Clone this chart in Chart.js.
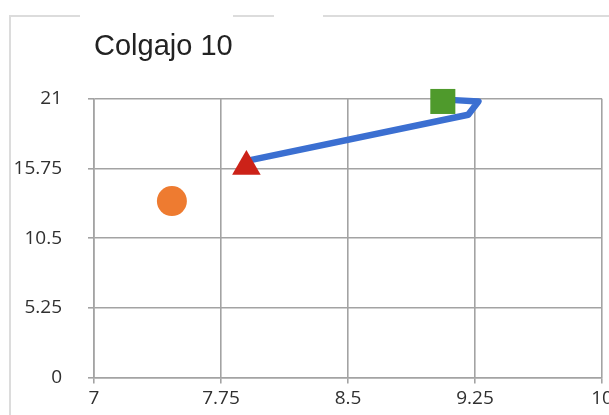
<!DOCTYPE html>
<html>
<head>
<meta charset="utf-8">
<script src="https://cdn.jsdelivr.net/npm/chart.js@4/dist/chart.umd.min.js"></script>
<style>
  html, body { margin: 0; padding: 0; background: #fff; }
  #wrap { position: relative; width: 609px; height: 415px; overflow: hidden; }
  canvas { position: absolute; left: 0; top: 0; }
  .frame { position: absolute; background: #dcdcdc; }
</style>
</head>
<body>
<div id="wrap">
  <div class="frame" style="left:9px; top:15px; width:2px; height:400px;"></div>
  <div class="frame" style="left:9px; top:15px; width:71px; height:2px;"></div>
  <div class="frame" style="left:233px; top:15px; width:41px; height:2px;"></div>
  <div class="frame" style="left:323px; top:15px; width:286px; height:2px;"></div>
  <canvas id="c" width="609" height="415"></canvas>
</div>
<script>
// Axis ticks and their labels
const xTicks = [7, 7.75, 8.5, 9.25, 10];
const xTickLabels = ['7', '7.75', '8.5', '9.25', '10'];
const yTicks = [0, 5.25, 10.5, 15.75, 21];
const yTickLabels = ['0', '5.25', '10.5', '15.75', '21'];

// Measurement points
const circleX = [7.46];
const circleY = [13.3];
const triangleX = [7.9];
const triangleY = [15.9];
const squareX = [9.06];
const squareY = [20.8];

// Arrow: shaft from the triangle, then the head (tip and barb)
const arrowX = [7.93, 9.21, 9.27, 9.13];
const arrowY = [16.4, 19.8, 20.8, 20.9];

const pts = (xs, ys) => xs.map((x, i) => ({ x: x, y: ys[i] }));

const gridColor = '#a3a3a3';
const tickColor = '#303030';
const tickFont = { family: 'Open Sans', size: 19, lineHeight: 1.2 };

new Chart(document.getElementById('c'), {
  type: 'scatter',
  data: {
    datasets: [
      {
        data: pts(arrowX, arrowY),
        showLine: true,
        borderColor: '#3b6fd1',
        borderWidth: 6.5,
        borderCapStyle: 'round',
        borderJoinStyle: 'round',
        pointRadius: 0,
        order: 10,
        clip: false
      },
      {
        data: pts(circleX, circleY),
        pointStyle: 'circle',
        pointRadius: 15,
        backgroundColor: '#ee7b30',
        borderColor: '#ee7b30',
        borderWidth: 0,
        order: 1,
        clip: false
      },
      {
        data: pts(triangleX, triangleY),
        pointStyle: 'triangle',
        pointRadius: 16.5,
        backgroundColor: '#cc2218',
        borderColor: '#cc2218',
        borderWidth: 0,
        order: 1,
        clip: false
      },
      {
        data: pts(squareX, squareY),
        pointStyle: 'rect',
        pointRadius: 17.7,
        backgroundColor: '#4f9a2c',
        borderColor: '#4f9a2c',
        borderWidth: 0,
        order: 1,
        clip: false
      }
    ]
  },
  options: {
    responsive: false,
    animation: false,
    events: [],
    layout: { autoPadding: false, padding: { left: 0, right: 7, top: 0, bottom: 0 } },
    plugins: {
      legend: { display: false },
      tooltip: { enabled: false },
      title: {
        display: true,
        text: 'Colgajo 10',
        align: 'start',
        fullSize: false,
        color: '#222',
        font: { family: 'Liberation Sans', size: 29, weight: 'normal', lineHeight: 1.2 },
        padding: { top: 30, bottom: 34 }
      }
    },
    scales: {
      x: {
        type: 'linear',
        min: 7,
        max: 10,
        afterBuildTicks: (s) => { s.ticks = xTicks.map(v => ({ value: v })); },
        // fixed axis band; the last label is allowed to run off the right edge
        afterFit: (s) => { s.height = 29; s.paddingLeft = 0; s.paddingRight = 0; },
        grid: { color: gridColor, lineWidth: 1.6, tickLength: 6, drawTicks: true },
        border: { color: gridColor, width: 1.6 },
        ticks: {
          color: tickColor, font: tickFont, padding: 4, maxRotation: 0, autoSkip: false,
          callback: (v, i) => xTickLabels[i]
        }
      },
      y: {
        type: 'linear',
        min: 0,
        max: 21,
        afterBuildTicks: (s) => { s.ticks = yTicks.map(v => ({ value: v })); },
        afterFit: (s) => { s.width = 94; },
        grid: { color: gridColor, lineWidth: 1.6, tickLength: 6, drawTicks: true },
        border: { color: gridColor, width: 1.6 },
        ticks: {
          color: tickColor, font: tickFont, padding: 26, autoSkip: false,
          callback: (v, i) => yTickLabels[i]
        }
      }
    }
  }
});
</script>
</body>
</html>
